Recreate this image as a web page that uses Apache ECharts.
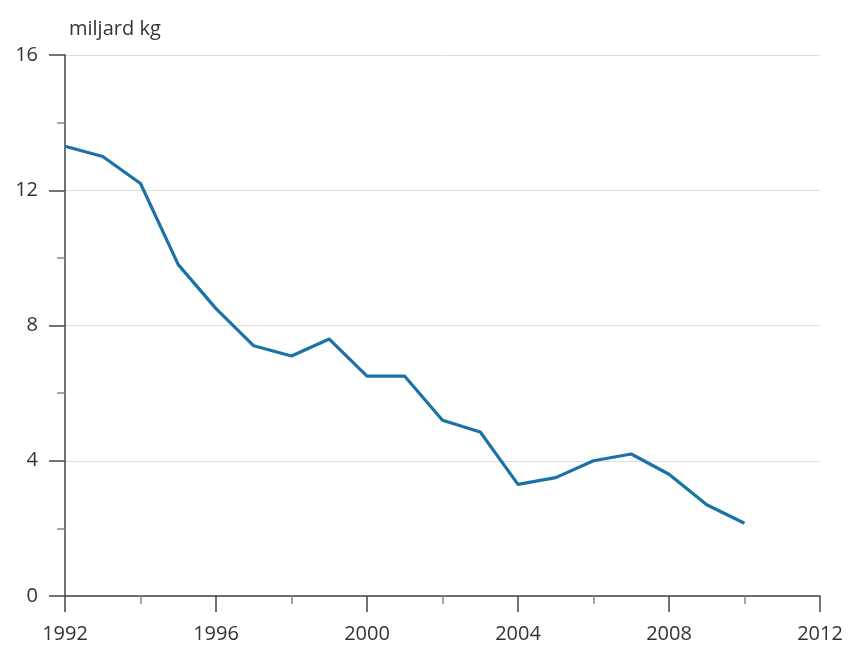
<!DOCTYPE html>
<html>
<head>
<meta charset="utf-8">
<script src="https://cdn.jsdelivr.net/npm/echarts@6/dist/echarts.min.js"></script>
<style>html,body{margin:0;padding:0;background:#fff}#c{width:848px;height:653px}</style>
</head>
<body>
<div id="c"></div>
<script>
const years = [1992,1993,1994,1995,1996,1997,1998,1999,2000,2001,2002,2003,2004,2005,2006,2007,2008,2009,2010];
const values = [13.3,13.0,12.2,9.8,8.5,7.4,7.1,7.6,6.5,6.5,5.2,4.85,3.3,3.5,4.0,4.2,3.6,2.7,2.15];
const unitLabel = 'miljard kg';

const chart = echarts.init(document.getElementById('c'), null, {renderer:'canvas'});
const font = '"Open Sans", "DejaVu Sans", sans-serif';
chart.setOption({
  animation:false,
  backgroundColor:'#fff',
  title:{text:unitLabel,left:64,top:14,textStyle:{fontFamily:font,fontSize:20,fontWeight:'normal',color:'#333'}},
  grid:{left:65,right:28,top:55,bottom:57,containLabel:false},
  xAxis:{type:'value',min:1992,max:2012,interval:4,
    axisLine:{show:true,lineStyle:{color:'#444',width:1.5}},
    axisTick:{show:true,length:16,lineStyle:{color:'#444',width:1.5}},
    minorTick:{show:true,splitNumber:2,length:8,lineStyle:{color:'#888',width:1.5}},
    splitLine:{show:false},
    axisLabel:{fontFamily:font,fontSize:20,color:'#333',margin:28,formatter:v=>String(v)}},
  yAxis:{type:'value',min:0,max:16,interval:4,
    axisLine:{show:true,lineStyle:{color:'#444',width:1.5}},
    axisTick:{show:true,length:16,lineStyle:{color:'#444',width:1.5}},
    minorTick:{show:true,splitNumber:2,length:8,lineStyle:{color:'#888',width:1.5}},
    splitLine:{show:true,lineStyle:{color:'#ddd',width:1}},
    axisLabel:{fontFamily:font,fontSize:20,color:'#333',margin:27}},
  series:[{type:'line',data:years.map((y,i)=>[y,values[i]]),symbol:'none',
    lineStyle:{color:'#1a72a6',width:3.2},z:3}]
});
</script>
</body>
</html>
